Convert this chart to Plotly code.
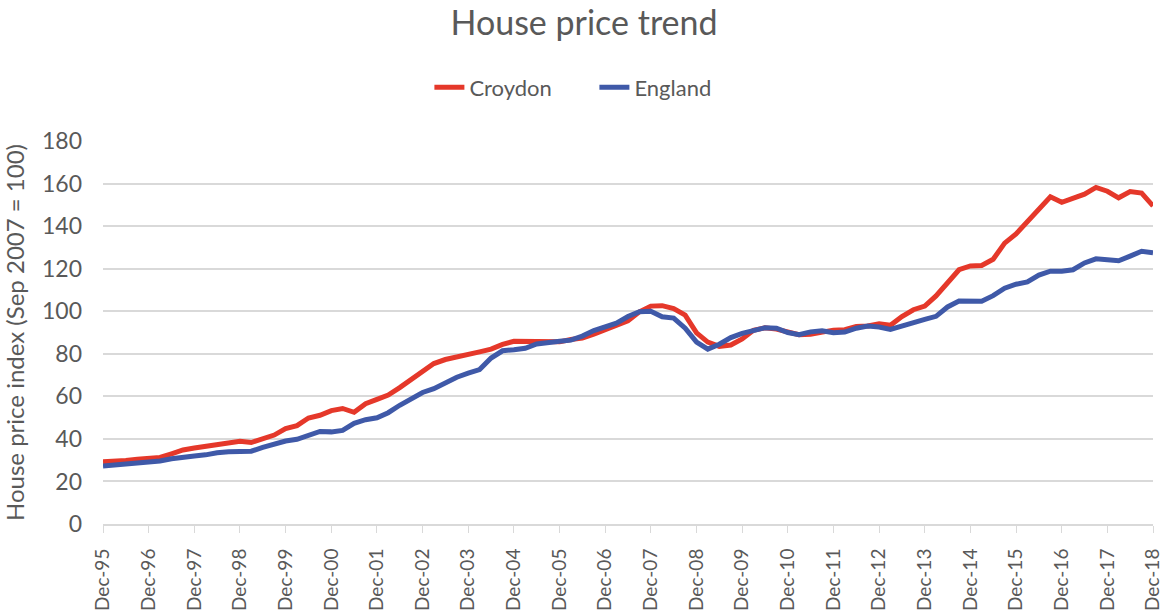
import pandas as pd
import plotly.graph_objects as go

# quarterly readings, Dec-95 .. Dec-18
quarters = pd.date_range("1995-12-01", "2018-12-01", freq="3MS")

croydon = [
    29.3, 29.3, 29.8, 30.4, 30.8, 31.3, 33.0, 34.8, 35.7, 36.5,
    37.1, 38.3, 38.9, 38.3, 40.2, 41.8, 44.8, 46.2, 49.8, 51.1,
    53.3, 54.3, 52.5, 56.5, 58.6, 60.6, 64.1, 68.0, 72.3, 75.4,
    77.3, 78.7, 80.0, 80.9, 82.2, 84.4, 85.9, 85.8, 85.5, 85.2,
    85.6, 86.7, 87.4, 89.2, 91.3, 93.3, 95.5, 99.7, 102.4, 102.6,
    101.2, 98.2, 89.8, 85.5, 83.5, 84.1, 87.0, 91.0, 92.2, 91.6,
    90.0, 89.0, 89.2, 90.4, 91.1, 91.3, 92.8, 93.1, 94.1, 93.4,
    97.5, 100.7, 102.4, 107.2, 113.8, 119.5, 121.3, 121.5, 124.4, 132.0,
    136.3, 142.0, 148.6, 153.8, 151.2, 153.2, 155.0, 158.2, 156.4, 153.3,
    156.2, 155.5, 149.5,
]

england = [
    27.2, 27.6, 28.0, 28.6, 29.2, 29.6, 30.7, 31.6, 32.0, 32.5,
    33.5, 33.9, 33.9, 34.2, 36.0, 37.6, 39.0, 39.8, 41.9, 43.5,
    43.3, 44.0, 47.3, 49.0, 49.9, 52.3, 55.8, 58.8, 61.8, 63.6,
    66.6, 69.0, 70.9, 72.6, 78.0, 81.4, 81.9, 82.6, 84.6, 85.5,
    85.9, 86.4, 88.3, 90.9, 92.7, 94.4, 97.5, 99.8, 100.0, 97.4,
    96.8, 92.0, 85.5, 82.2, 84.5, 87.6, 89.6, 90.6, 92.2, 92.0,
    90.0, 89.0, 90.3, 90.8, 89.9, 90.2, 92.0, 93.0, 92.6, 91.4,
    93.2, 94.5, 96.2, 97.6, 102.0, 104.8, 104.5, 104.7, 107.3, 110.8,
    112.7, 113.8, 117.0, 118.8, 118.8, 119.5, 122.7, 124.6, 124.2, 123.7,
    125.9, 128.2, 127.5,
]

tick_dates = pd.date_range("1995-12-01", "2018-12-01", freq="12MS")
tick_labels = [
    "Dec-95", "Dec-96", "Dec-97", "Dec-98", "Dec-99", "Dec-00", "Dec-01", "Dec-02",
    "Dec-03", "Dec-04", "Dec-05", "Dec-06", "Dec-07", "Dec-08", "Dec-09", "Dec-10",
    "Dec-11", "Dec-12", "Dec-13", "Dec-14", "Dec-15", "Dec-16", "Dec-17", "Dec-18",
]

TEXT = "#595959"
GRID = "#d9d9d9"
FONT = "Lato, 'Open Sans', sans-serif"

fig = go.Figure()
fig.add_trace(go.Scatter(x=quarters, y=croydon, name="Croydon", mode="lines",
                         line=dict(color="#e5382a", width=5)))
fig.add_trace(go.Scatter(x=quarters, y=england, name="England", mode="lines",
                         line=dict(color="#3f59a8", width=5)))

fig.update_xaxes(
    range=[tick_dates[0], tick_dates[-1]],
    tickvals=tick_dates,
    ticktext=tick_labels,
    tickangle=-90,
    tickfont=dict(size=19, color=TEXT),
    showgrid=False,
    showline=True,
    linecolor=GRID,
    linewidth=2,
    ticks="outside",
    ticklen=7,
    tickcolor=GRID,
    ticklabelstandoff=8,
    automargin=False,
)
fig.update_yaxes(
    range=[0, 180],
    dtick=20,
    tickfont=dict(size=23, color=TEXT),
    gridcolor=GRID,
    gridwidth=1.5,
    zeroline=False,
    ticklabelstandoff=20,
    automargin=False,
    title=dict(text="House price index (Sep 2007 = 100)",
               font=dict(size=24, color=TEXT), standoff=14),
)

fig.update_layout(
    width=1168,
    height=611,
    margin=dict(l=103, r=15, t=141, b=87),
    paper_bgcolor="white",
    plot_bgcolor="white",
    font=dict(family=FONT, color=TEXT),
    title=dict(text="House price trend", x=0.5, xanchor="center",
               y=0.962, yanchor="middle", yref="container",
               font=dict(size=34, color=TEXT)),
    legend=dict(orientation="h", x=0.468, xanchor="center", y=1.140, yanchor="middle",
                entrywidth=120, font=dict(size=22, color=TEXT),
                bgcolor="rgba(0,0,0,0)"),
)

# page has a default 8px body margin; drop it so the figure sits at the corner
fig.write_html("out.html", config={"displayModeBar": False},
               post_script="document.body.style.margin = '0';")
